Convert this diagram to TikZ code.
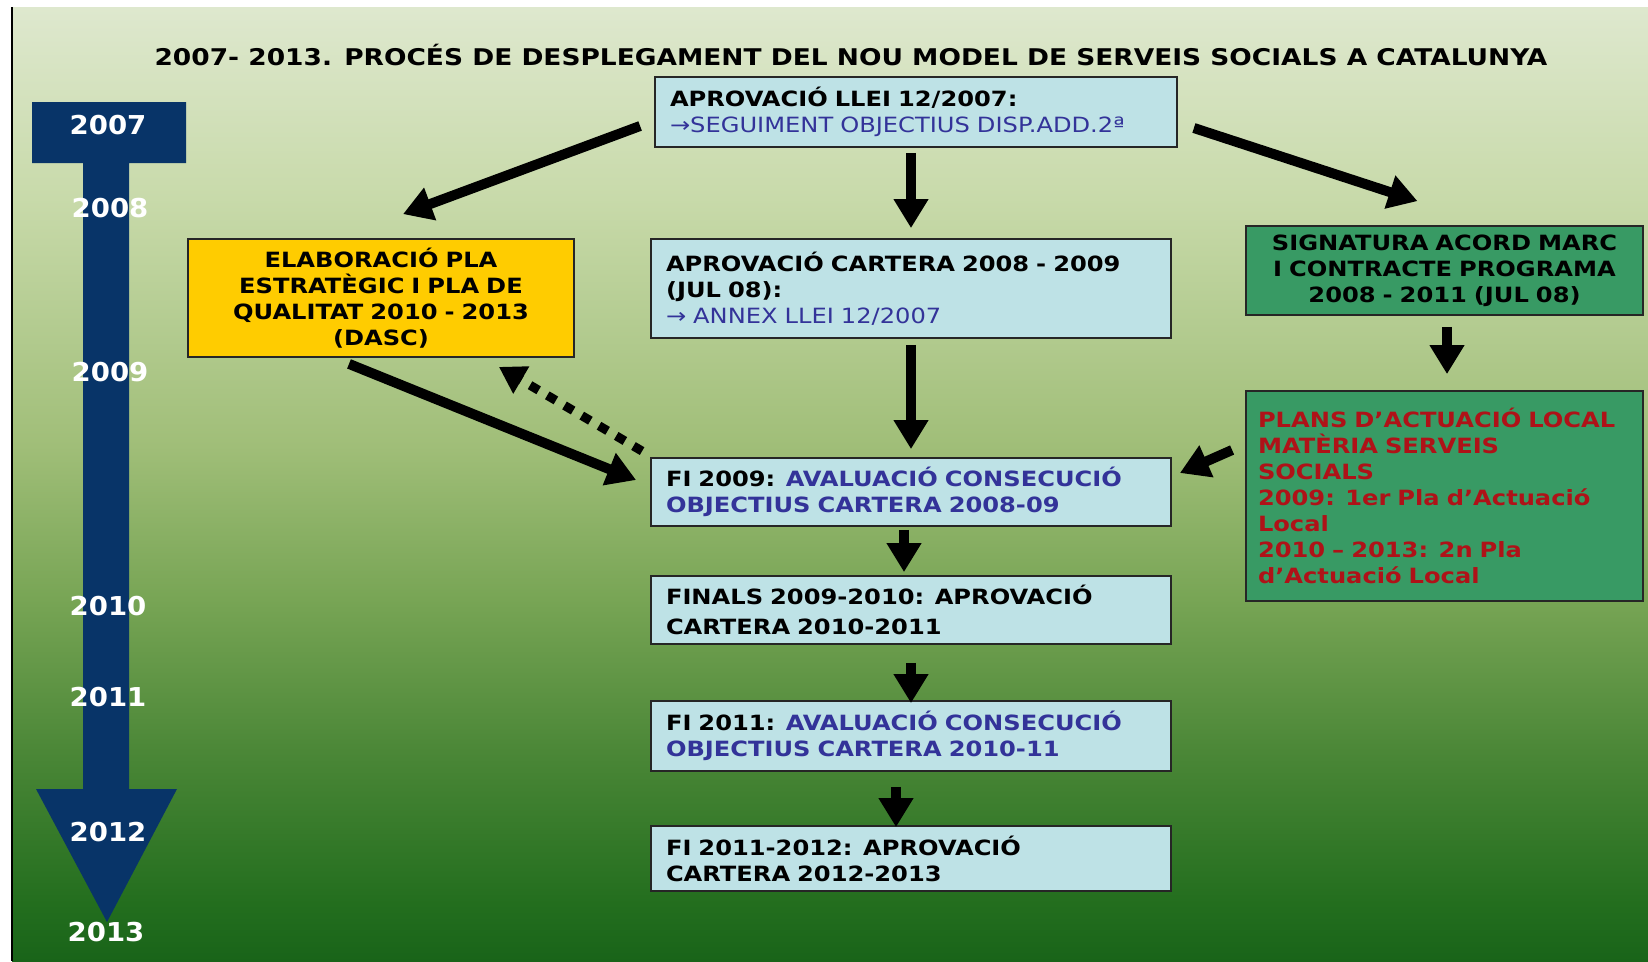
\documentclass[tikz,border=0pt]{standalone}
\usepackage{fontspec}
\usetikzlibrary{arrows.meta,calc}
\newfontfamily\bodyfont[FakeStretch=1.15]{DejaVu Sans}
\newfontfamily\yearfont[FakeStretch=1.06]{DejaVu Sans}
\definecolor{navy}{RGB}{8,52,104}
\definecolor{boxcyan}{RGB}{190,226,230}
\definecolor{boxyellow}{RGB}{255,204,0}
\definecolor{boxgreen}{RGB}{56,154,100}
\definecolor{txtblue}{RGB}{51,51,153}
\definecolor{txtred}{RGB}{175,18,24}
\definecolor{bg0}{RGB}{25,100,25}
\definecolor{bg1}{RGB}{35,110,30}
\definecolor{bg2}{RGB}{75,135,55}
\definecolor{bg3}{RGB}{120,165,85}
\definecolor{bg4}{RGB}{160,190,120}
\definecolor{bg5}{RGB}{200,218,170}
\definecolor{bg6}{RGB}{222,232,206}
\pgfdeclareverticalshading{bgshade}{100bp}{color(0bp)=(bg0); color(25bp)=(bg0); color(28bp)=(bg1); color(36bp)=(bg2); color(44bp)=(bg3); color(52bp)=(bg4); color(65bp)=(bg5); color(75bp)=(bg6); color(100bp)=(bg6)}
\begin{document}
\begin{tikzpicture}[x=1pt,y=-1pt,
  box/.style={draw=black!85, line width=1.8pt, inner ysep=0pt, inner xsep=15pt,
    font=\bodyfont\fontsize{21}{26}\selectfont\bfseries},
  cyanbox/.style={box, fill=boxcyan, align=left, minimum width=520pt, text width=490pt},
  year/.style={text=white, font=\yearfont\bfseries\fontsize{26}{30}\selectfont},
  big/.style={line width=10pt, -{Triangle[width=33pt,length=29pt]}},
  dashbig/.style={line width=9pt, dash pattern=on 10pt off 10pt, -{Triangle[width=30pt,length=26pt]}}
]
\useasboundingbox (0,0) rectangle (1648,961);
\fill[white] (0,0) rectangle (1648,961);
\shade[shading=bgshade] (12,7) rectangle (1648,961);
\draw[line width=2pt] (12,7) -- (12,961);

% timeline
\fill[navy] (32,102) -- (186,102) -- (186,163) -- (129,163) -- (129,789) -- (177,789)
  -- (107,922) -- (36,789) -- (83,789) -- (83,163) -- (32,163) -- cycle;
\node[year] (y2007) at (108,125) {2007};
\node[year] (y2008) at (110,208) {2008};
\node[year] (y2009) at (110,372) {2009};
\node[year] (y2010) at (108,606) {2010};
\node[year] (y2011) at (108,697) {2011};
\node[year] (y2012) at (108,832) {2012};
\node[year] (y2013) at (106,932) {2013};

% title
\node[font=\bodyfont\bfseries\fontsize{23}{26}\selectfont] (title) at (851,55)
  {2007- 2013. PROCÉS DE DESPLEGAMENT DEL NOU MODEL DE SERVEIS SOCIALS A CATALUNYA};

% boxes
\node[cyanbox, minimum width=522pt, text width=492pt, minimum height=70pt] (top) at (916,112)
  {APROVACIÓ LLEI 12/2007:\\{\mdseries\color{txtblue}→SEGUIMENT OBJECTIUS DISP.ADD.2ª}};
\node[box, fill=boxyellow, align=center, inner xsep=5pt, minimum width=386pt, text width=376pt, minimum height=118pt] (yellow) at (381,298)
  {ELABORACIÓ PLA\\ESTRATÈGIC I PLA DE\\QUALITAT 2010 - 2013\\(DASC)};
\node[cyanbox, minimum height=99pt] (cartera) at (911,288.5)
  {APROVACIÓ CARTERA 2008 - 2009\\(JUL 08):\\{\mdseries\color{txtblue}→ ANNEX LLEI 12/2007}};
\node[box, fill=boxgreen, align=center, inner xsep=5pt, minimum width=397pt, text width=387pt, minimum height=89pt] (sign) at (1444.5,270.5)
  {SIGNATURA ACORD MARC\\I CONTRACTE PROGRAMA\\2008 - 2011 (JUL 08)};
\node[box, fill=boxgreen, text=txtred, align=left, inner xsep=12pt, minimum width=397pt, text width=373pt, minimum height=210pt] (plans) at (1444.5,496)
  {PLANS D’ACTUACIÓ LOCAL\\MATÈRIA SERVEIS\\SOCIALS\\2009: 1er Pla d’Actuació\\Local\\2010 – 2013: 2n Pla\\d’Actuació Local};
\node[cyanbox, minimum height=68pt] (fi09) at (911,492)
  {FI 2009: {\color{txtblue}AVALUACIÓ CONSECUCIÓ\\OBJECTIUS CARTERA 2008-09}};
\node[cyanbox, minimum height=68pt] (finals) at (911,610)
  {FINALS 2009-2010: APROVACIÓ\\[4pt]CARTERA 2010-2011};
\node[cyanbox, minimum height=70pt] (fi11) at (911,736)
  {FI 2011: {\color{txtblue}AVALUACIÓ CONSECUCIÓ\\OBJECTIUS CARTERA 2010-11}};
\node[cyanbox, minimum height=65pt] (fi12) at (911,858.5)
  {FI 2011-2012: APROVACIÓ\\CARTERA 2012-2013};

% connectors
\draw[big] ($(top.west)+(-14,14)$) -- ($(yellow.north)+(22,-24)$);
\draw[big] ($(top.south)+(-5,5)$) -- ($(cartera.north)+(0,-10)$);
\draw[big] ($(top.east)+(16,16)$) -- ($(sign.north)+(-27,-24)$);
\draw[big] ($(cartera.south)+(0,6)$) -- ($(fi09.north)+(0,-8)$);
\draw[big] ($(yellow.south)+(-32,6)$) -- ($(fi09.west)+(-14,-12)$);
\draw[dashbig] ($(fi09.north west)+(-8,-6)$) -- ($(yellow.south east)+(-76,9)$);
\draw[big] ($(sign.south)+(2.5,11)$) -- ($(plans.north)+(2.5,-16)$);
\draw[big] ($(plans.west)+(-13,-46)$) -- ($(fi09.east)+(8,-19)$);
\draw[big] ($(fi09.south)+(-7,3)$) -- ($(finals.north)+(-7,-3)$);
\draw[big] ($(finals.south)+(0,18)$) -- ($(fi11.north)+(0,3)$);
\draw[big] ($(fi11.south)+(-15,15)$) -- ($(fi12.north)+(-15,2)$);
\end{tikzpicture}
\end{document}
